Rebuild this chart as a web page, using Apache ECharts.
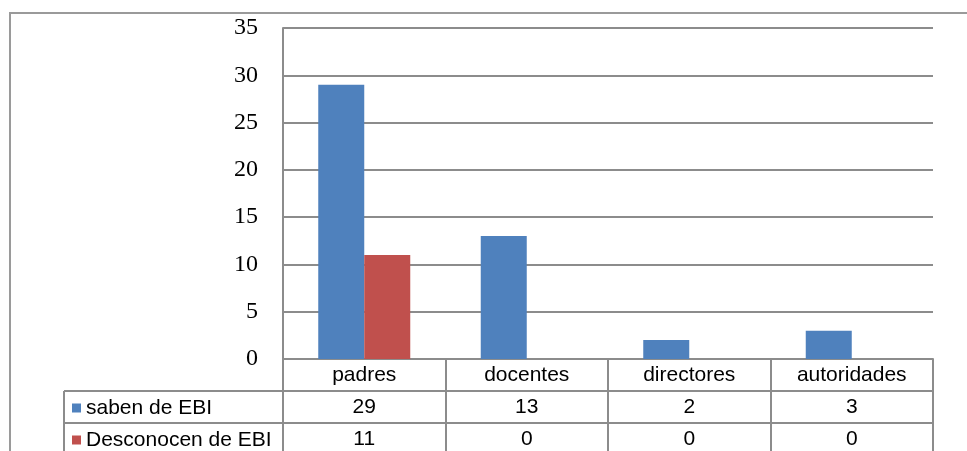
<!DOCTYPE html>
<html>
<head>
<meta charset="utf-8">
<script src="https://cdn.jsdelivr.net/npm/echarts@6/dist/echarts.min.js"></script>
<style>
  html, body { margin: 0; padding: 0; background: #fff; }
  #chart { width: 967px; height: 451px; }
</style>
</head>
<body>
<div id="chart"></div>
<script>
// data
const categories = ['padres', 'docentes', 'directores', 'autoridades'];
const seriesNames = ['saben de EBI', 'Desconocen de EBI'];
const sabenData = [29, 13, 2, 3];
const desconocenData = [11, 0, 0, 0];
const yTicks = [0, 35, 5]; // min, max, interval

const gridLine = '#8c8c8c';
const sans = 'Liberation Sans';
const tableFont = 21;

let chart = echarts.init(document.getElementById('chart'));

// table row axis under the plot, labels come from a series array
function rowAxis(values, offset) {
  return {
    type: 'category',
    position: 'bottom',
    offset: offset,
    data: categories,
    axisLine: {show: false},
    axisTick: {show: false},
    axisLabel: {
      interval: 0,
      margin: 16,
      verticalAlign: 'middle',
      fontFamily: sans,
      fontSize: tableFont,
      color: '#000',
      formatter: (val, idx) => String(values[idx])
    }
  };
}

// one legend per table row so each key sits in its own row
function rowLegend(name, top) {
  return {
    left: 67,
    top: top,
    itemWidth: 9,
    itemHeight: 9,
    icon: 'rect',
    selectedMode: false,
    textStyle: {fontFamily: sans, fontSize: tableFont, color: '#000', lineHeight: 22},
    data: [name]
  };
}

chart.setOption({
  animation: false,
  grid: {left: 283, right: 34, top: 28, bottom: 92},
  legend: [
    rowLegend(seriesNames[0], 392),
    rowLegend(seriesNames[1], 424)
  ],
  xAxis: [
    {
      type: 'category',
      data: categories,
      axisLine: {show: true, lineStyle: {color: gridLine, width: 2}},
      axisTick: {show: true, interval: 0, length: 100, lineStyle: {color: gridLine, width: 2}},
      axisLabel: {
        interval: 0,
        margin: 16,
        verticalAlign: 'middle',
        fontFamily: sans,
        fontSize: tableFont,
        color: '#000'
      }
    },
    rowAxis(sabenData, 32),
    rowAxis(desconocenData, 64)
  ],
  yAxis: {
    type: 'value',
    min: yTicks[0],
    max: yTicks[1],
    interval: yTicks[2],
    axisLine: {show: true, lineStyle: {color: gridLine, width: 2}},
    axisTick: {show: false},
    splitLine: {lineStyle: {color: gridLine, width: 2}},
    axisLabel: {
      margin: 25,
      fontFamily: 'Liberation Serif',
      fontSize: 24,
      color: '#000'
    }
  },
  series: [
    {
      name: seriesNames[0],
      type: 'bar',
      data: sabenData,
      barWidth: 46,
      barGap: '0%',
      itemStyle: {color: '#4F81BD'}
    },
    {
      name: seriesNames[1],
      type: 'bar',
      data: desconocenData,
      barWidth: 46,
      itemStyle: {color: '#C0504D'}
    }
  ],
  graphic: [
    // outer chart frame
    {type: 'rect', shape: {x: 10, y: 13, width: 1000, height: 500}, style: {fill: null, stroke: '#9a9a9a', lineWidth: 2}, silent: true},
    // table row lines
    {type: 'line', shape: {x1: 64, y1: 391, x2: 933, y2: 391}, style: {stroke: gridLine, lineWidth: 2}},
    {type: 'line', shape: {x1: 64, y1: 423, x2: 933, y2: 423}, style: {stroke: gridLine, lineWidth: 2}},
    {type: 'line', shape: {x1: 64, y1: 391, x2: 64, y2: 460}, style: {stroke: gridLine, lineWidth: 2}}
  ]
});
</script>
</body>
</html>
